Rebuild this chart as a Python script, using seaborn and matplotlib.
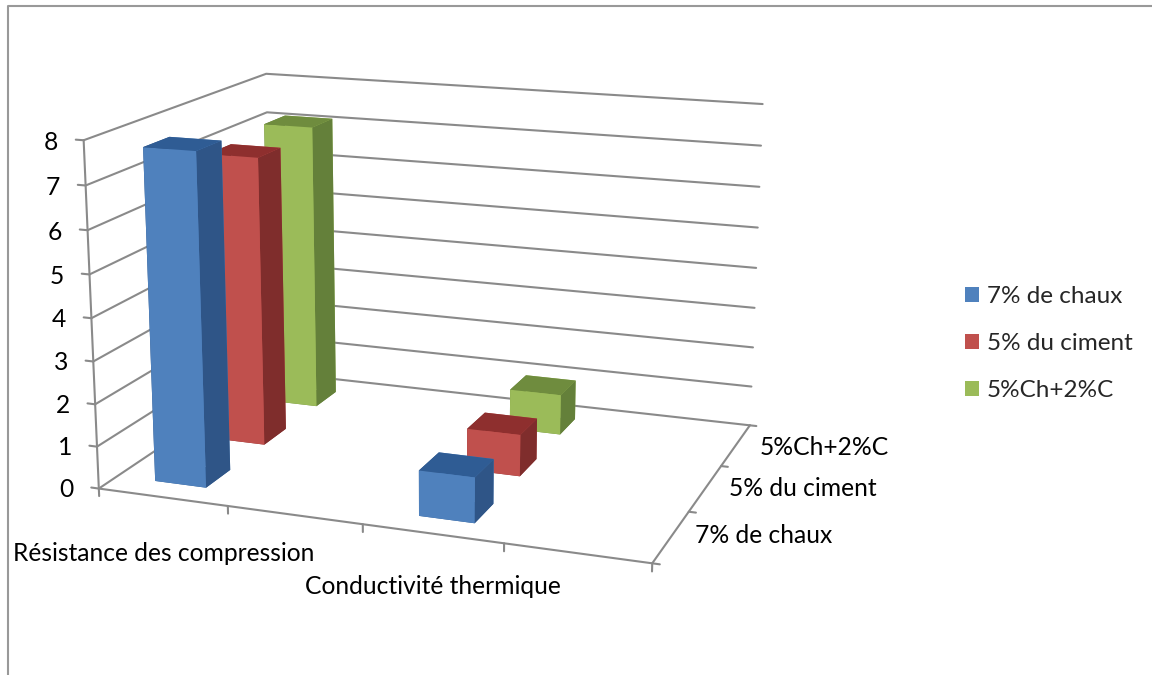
import matplotlib
matplotlib.use("Agg")
import matplotlib.pyplot as plt
import seaborn as sns
from matplotlib.lines import Line2D
from matplotlib.patches import Patch
from mpl_toolkits.mplot3d import proj3d

# data
categories = ["Résistance des compression", "Conductivité thermique"]
series = ["7% de chaux", "5% du ciment", "5%Ch+2%C"]
chaux = [7.75, 1.05]
ciment = [7.0, 1.0]
mixte = [7.15, 1.0]
y_ticks = list(range(9))

front = ["#4F81BD", "#C0504D", "#9BBB59"]
side = ["#2F5587", "#7F2D2C", "#64803A"]
top = ["#2F5C94", "#8E2F2E", "#6F8C3E"]
grid = "#8A8A8A"

sns.set_theme(style="white")
plt.rcParams["font.family"] = ["Lato", "DejaVu Sans"]

fig = plt.figure(figsize=(11.52, 6.75), dpi=100)
ax = fig.add_axes([-0.0784, -0.0033, 0.9, 1.1115], projection="3d", computed_zorder=False)
ax.set_proj_type("persp", focal_length=0.5295)
ax.view_init(elev=15.05, azim=-69.88)
ax.set_box_aspect((4, 2.946, 2.487))
ax.set_xticks([])
ax.set_yticks([])
ax.set_zticks([])
ax.set_axis_off()
ax.set_xlim(0, 4)
ax.set_ylim(0, 3)
ax.set_zlim(0, 8)


def label(x, y, z, s, **kw):
    # flat text anchored on a point of the 3d box
    px, py, _ = proj3d.proj_transform(x, y, z, ax.get_proj())
    ax.text2D(px, py, s, transform=ax.transData, fontsize=17.7, va="center", color="black", **kw)


# walls
for v in y_ticks:
    ax.plot([0, 0, 4], [0, 3, 3], [v, v, v], color=grid, lw=1.5, zorder=1)
    ax.plot([0, -0.06], [0, 0], [v, v], color=grid, lw=1.5, zorder=1)
    label(-0.2, 0, v - 0.1, str(v), ha="right")
ax.plot([0, 0], [0, 0], [0, 8], color=grid, lw=1.5, zorder=1)
ax.plot([0, 4, 4], [0, 0, 3], [0, 0, 0], color=grid, lw=1.5, zorder=1)
for i in range(5):
    ax.plot([i, i], [0, 0], [0, -0.18], color=grid, lw=1.5, zorder=1)
for j in range(4):
    ax.plot([4, 4.05], [j, j], [0, 0], color=grid, lw=1.5, zorder=1)

# bars, back to front
values = [chaux, ciment, mixte]
z = 2
for j in [2, 1, 0]:
    for i, xc in enumerate([0.5, 2.5]):
        faces = [top[j], top[j], front[j], front[j], side[j], side[j]]
        ax.bar3d(xc - 0.2, j + 0.28, 0, 0.4, 0.4, values[j][i], color=faces,
                 shade=False, zorder=z, edgecolor="none", linewidth=0)
        z += 1

for xpos, ypos, name in zip([0.99, 2.81], [-0.95, -0.85], categories):
    label(xpos, ypos, 0, name, ha="center")
for xpos, ypos, name in zip([4.14, 4.16, 4.18], [0.58, 1.55, 2.5], series):
    label(xpos, ypos, 0, name, ha="left")

handles = [Patch(facecolor=c, edgecolor="none") for c in front]
fig.legend(handles, series, loc="center left", bbox_to_anchor=(0.8186, 0.491), frameon=False,
           fontsize=17.5, labelspacing=1.07, handlelength=0.58, handleheight=0.58, handletextpad=0.33)

# border of the picture
fig.add_artist(Line2D([8 / 1152, 8 / 1152, 1], [0, 669 / 675, 669 / 675], color="#999999", lw=1.5))

fig.savefig("out.png", dpi=100)
